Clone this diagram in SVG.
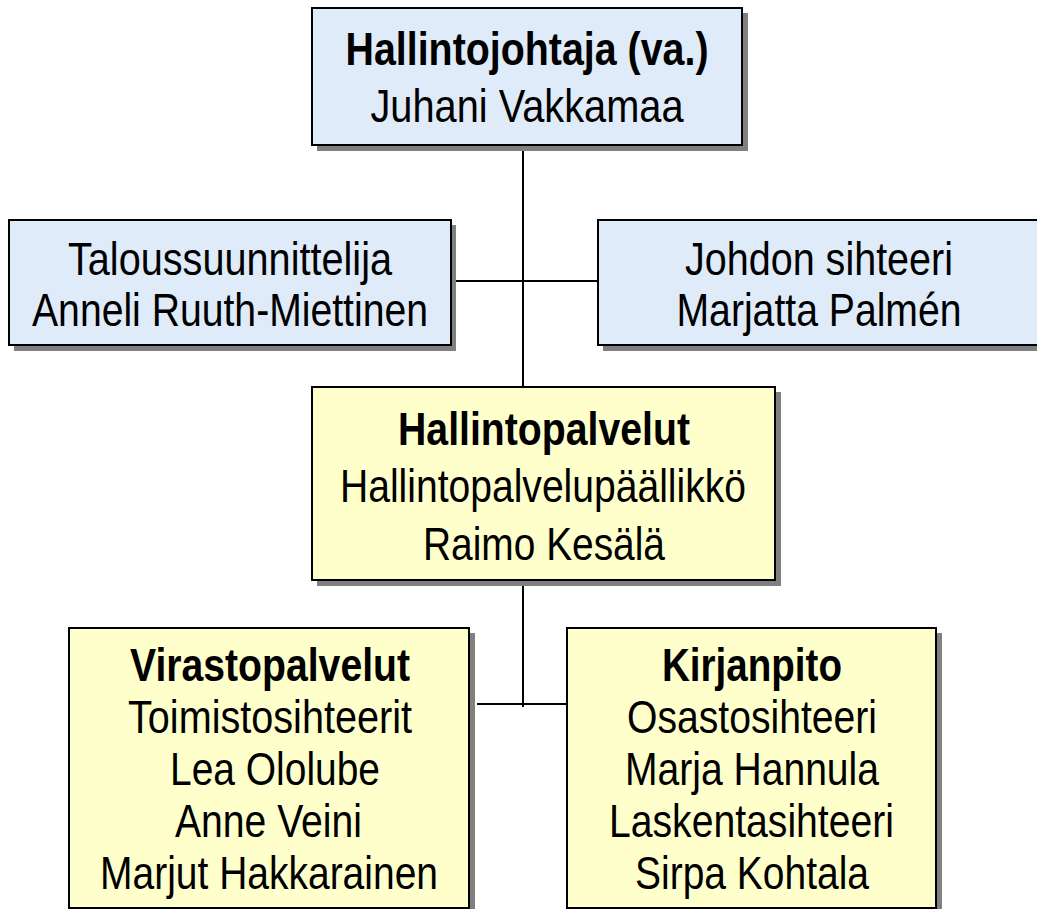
<svg xmlns="http://www.w3.org/2000/svg" width="1037" height="909" viewBox="0 0 1037 909">
<style>
.shadow{fill:#808080;stroke:none}
.blue{fill:#DFEBF9;stroke:#000;stroke-width:2}
.yellow{fill:#FFFFCC;stroke:#000;stroke-width:2}
text{font-family:"Liberation Sans Narrow","Arial Narrow","Liberation Sans",Arial,sans-serif;font-size:47px;fill:#000;text-anchor:middle}
.b{font-weight:bold}
.conn line{stroke:#000;stroke-width:2}
</style>
<rect width="1037" height="909" fill="#fff"/>
<g class="conn" id="connectors">
<line x1="523" y1="145" x2="523" y2="387"/>
<line x1="451" y1="281" x2="598" y2="281"/>
<line x1="523" y1="580" x2="523" y2="707"/>
<line x1="477" y1="704" x2="574" y2="704"/>
</g>
<g id="node-hallintojohtaja">
<rect class="shadow" x="317" y="13" width="431" height="138"/>
<rect class="blue" x="312" y="8" width="430" height="137"/>
<text x="527" y="65" class="b" textLength="363" lengthAdjust="spacingAndGlyphs">Hallintojohtaja (va.)</text>
<text x="527" y="122" textLength="313" lengthAdjust="spacingAndGlyphs">Juhani Vakkamaa</text>
</g>
<g id="node-taloussuunnittelija">
<rect class="shadow" x="14" y="225" width="442" height="126"/>
<rect class="blue" x="9" y="220" width="442" height="125"/>
<text x="230" y="275" textLength="324" lengthAdjust="spacingAndGlyphs">Taloussuunnittelija</text>
<text x="230" y="326" textLength="396" lengthAdjust="spacingAndGlyphs">Anneli Ruuth-Miettinen</text>
</g>
<g id="node-johdon-sihteeri">
<rect class="shadow" x="603" y="225" width="442" height="126"/>
<rect class="blue" x="598" y="220" width="442" height="125"/>
<text x="819" y="275" textLength="268" lengthAdjust="spacingAndGlyphs">Johdon sihteeri</text>
<text x="819" y="326" textLength="285" lengthAdjust="spacingAndGlyphs">Marjatta Palmén</text>
</g>
<g id="node-hallintopalvelut">
<rect class="shadow" x="317" y="392" width="464" height="194"/>
<rect class="yellow" x="312" y="387" width="463" height="193"/>
<text x="544" y="445" class="b" textLength="292" lengthAdjust="spacingAndGlyphs">Hallintopalvelut</text>
<text x="543" y="502" textLength="406" lengthAdjust="spacingAndGlyphs">Hallintopalvelupäällikkö</text>
<text x="544" y="560" textLength="242" lengthAdjust="spacingAndGlyphs">Raimo Kesälä</text>
</g>
<g id="node-virastopalvelut">
<rect class="shadow" x="74" y="633" width="401" height="290"/>
<rect class="yellow" x="69" y="628" width="400" height="280"/>
<text x="270" y="681" class="b" textLength="280" lengthAdjust="spacingAndGlyphs">Virastopalvelut</text>
<text x="270" y="733" textLength="284" lengthAdjust="spacingAndGlyphs">Toimistosihteerit</text>
<text x="275" y="785" textLength="210" lengthAdjust="spacingAndGlyphs">Lea Ololube</text>
<text x="268.5" y="837" textLength="187" lengthAdjust="spacingAndGlyphs">Anne Veini</text>
<text x="269" y="889" textLength="338" lengthAdjust="spacingAndGlyphs">Marjut Hakkarainen</text>
</g>
<g id="node-kirjanpito">
<rect class="shadow" x="572" y="633" width="370" height="290"/>
<rect class="yellow" x="567" y="628" width="369" height="280"/>
<text x="752" y="681" class="b" textLength="180" lengthAdjust="spacingAndGlyphs">Kirjanpito</text>
<text x="752" y="733" textLength="250" lengthAdjust="spacingAndGlyphs">Osastosihteeri</text>
<text x="752" y="785" textLength="254" lengthAdjust="spacingAndGlyphs">Marja Hannula</text>
<text x="751.5" y="837" textLength="285" lengthAdjust="spacingAndGlyphs">Laskentasihteeri</text>
<text x="752" y="889" textLength="234" lengthAdjust="spacingAndGlyphs">Sirpa Kohtala</text>
</g>
</svg>
